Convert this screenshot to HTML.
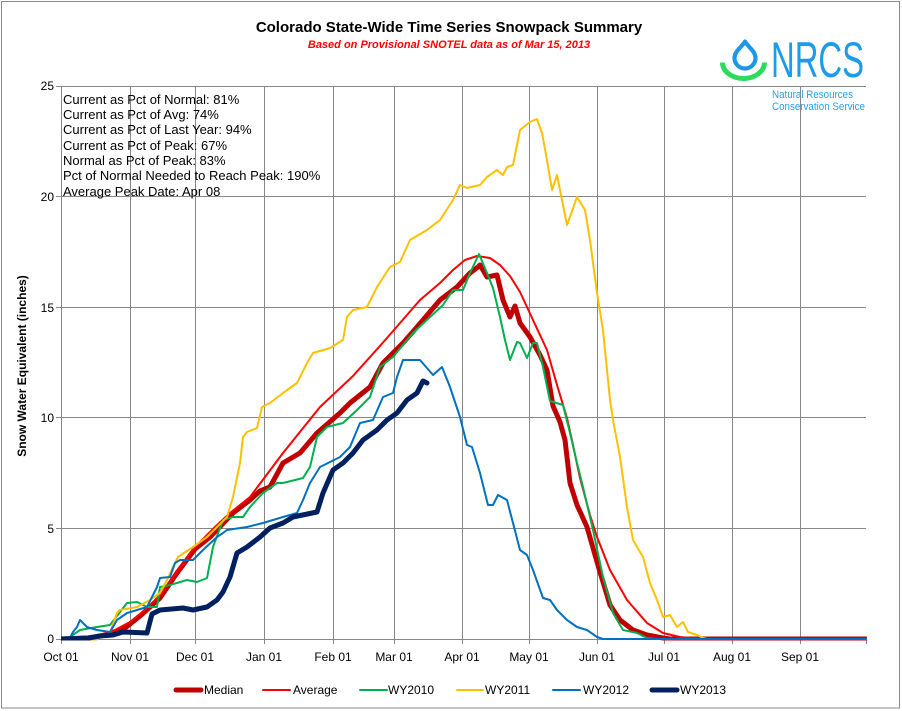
<!DOCTYPE html>
<html><head><meta charset="utf-8"><style>
html,body{margin:0;padding:0;background:#fff;}
svg{display:block;}
text{font-family:"Liberation Sans",Arial,sans-serif;}
</style></head><body>
<svg width="902" height="711" viewBox="0 0 902 711" xmlns="http://www.w3.org/2000/svg">
<rect x="0" y="0" width="902" height="711" fill="#fff"/>
<rect x="1.5" y="1.5" width="898" height="706.5" fill="none" stroke="#8a8a8a" stroke-width="1"/>

<!-- Title -->
<text x="449" y="32" text-anchor="middle" font-size="15" font-weight="bold" fill="#000">Colorado State-Wide Time Series Snowpack Summary</text>
<text x="449" y="48" text-anchor="middle" font-size="11" font-weight="bold" font-style="italic" fill="#ff0000">Based on Provisional SNOTEL data as of Mar 15, 2013</text>

<!-- Logo -->
<path d="M722.5,62.5 A21,16 0 0 0 764.5,62.5" fill="none" stroke="#2bdc5b" stroke-width="5"/>
<path d="M745,41.5 C748,47 755.5,51 755.5,58 A10.5,10.5 0 0 1 734.5,58 C734.5,51 742,47 745,41.5 Z" fill="#fff" stroke="#1e98e6" stroke-width="4.2" stroke-linejoin="round"/>
<text x="771" y="77" font-size="50" fill="#1e9be8" textLength="93" lengthAdjust="spacingAndGlyphs">NRCS</text>
<text x="772" y="98" font-size="11" fill="#2a9fe0" textLength="81" lengthAdjust="spacingAndGlyphs">Natural Resources</text>
<text x="772" y="110" font-size="11" fill="#2a9fe0" textLength="93" lengthAdjust="spacingAndGlyphs">Conservation Service</text>

<!-- Gridlines -->
<g stroke="#878787" stroke-width="1" fill="none">
<line x1="61" y1="86.5" x2="866" y2="86.5"/>
<line x1="61" y1="196.5" x2="866" y2="196.5"/>
<line x1="61" y1="307.5" x2="866" y2="307.5"/>
<line x1="61" y1="417.5" x2="866" y2="417.5"/>
<line x1="61" y1="528.5" x2="866" y2="528.5"/>
<line x1="56" y1="639.5" x2="866" y2="639.5"/>
<line x1="61.5" y1="86" x2="61.5" y2="644"/>
<line x1="130.5" y1="86" x2="130.5" y2="644"/>
<line x1="195.5" y1="86" x2="195.5" y2="644"/>
<line x1="264.5" y1="86" x2="264.5" y2="644"/>
<line x1="333.5" y1="86" x2="333.5" y2="644"/>
<line x1="394.5" y1="86" x2="394.5" y2="644"/>
<line x1="462.5" y1="86" x2="462.5" y2="644"/>
<line x1="529.5" y1="86" x2="529.5" y2="644"/>
<line x1="597.5" y1="86" x2="597.5" y2="644"/>
<line x1="664.5" y1="86" x2="664.5" y2="644"/>
<line x1="732.5" y1="86" x2="732.5" y2="644"/>
<line x1="800.5" y1="86" x2="800.5" y2="644"/>
<line x1="866.5" y1="639" x2="866.5" y2="644"/>
<line x1="56" y1="86.5" x2="61" y2="86.5"/>
<line x1="56" y1="196.5" x2="61" y2="196.5"/>
<line x1="56" y1="307.5" x2="61" y2="307.5"/>
<line x1="56" y1="417.5" x2="61" y2="417.5"/>
<line x1="56" y1="528.5" x2="61" y2="528.5"/>
</g>

<!-- Y labels -->
<g font-size="12" fill="#000" text-anchor="end">
<text x="54" y="90">25</text>
<text x="54" y="201">20</text>
<text x="54" y="312">15</text>
<text x="54" y="422">10</text>
<text x="54" y="533">5</text>
<text x="54" y="643">0</text>
</g>
<text transform="translate(26,366) rotate(-90)" text-anchor="middle" font-size="12" font-weight="bold" fill="#000">Snow Water Equivalent (inches)</text>

<!-- X labels -->
<g font-size="12" fill="#000" text-anchor="middle">
<text x="61" y="661">Oct 01</text>
<text x="130" y="661">Nov 01</text>
<text x="195" y="661">Dec 01</text>
<text x="264" y="661">Jan 01</text>
<text x="333" y="661">Feb 01</text>
<text x="394" y="661">Mar 01</text>
<text x="462" y="661">Apr 01</text>
<text x="529" y="661">May 01</text>
<text x="597" y="661">Jun 01</text>
<text x="664" y="661">Jul 01</text>
<text x="732" y="661">Aug 01</text>
<text x="800" y="661">Sep 01</text>
</g>

<!-- Stats text -->
<g font-size="13" fill="#000">
<text x="63" y="104">Current  as Pct of Normal: 81%</text>
<text x="63" y="119">Current  as Pct of Avg: 74%</text>
<text x="63" y="134">Current  as Pct of Last Year: 94%</text>
<text x="63" y="150">Current  as Pct of Peak: 67%</text>
<text x="63" y="165">Normal as Pct of Peak: 83%</text>
<text x="63" y="180">Pct of Normal Needed to Reach Peak: 190%</text>
<text x="63" y="196">Average Peak Date: Apr 08</text>
</g>

<defs><clipPath id="pc"><rect x="61" y="80" width="806" height="560.5"/></clipPath></defs>
<g clip-path="url(#pc)" fill="none" stroke-linejoin="round" stroke-linecap="round">
<!-- Median -->
<polyline stroke="#c00000" stroke-width="5" points="61,639 90,638 110,634 125,628 140,616 160,598 177,573 195,549 210,537 233,513 250,500 260,491 270,487 283,463 300,453 317,433 340,413 350,403 370,387 383,363 403,343 417,327 440,300 457,287 470,273 478,267 480,265 487,277 497,275 503,300 510,317 515,306 520,323 530,337 540,355 547,370 553,406 560,422 565,440 570,483 577,505 587,527 593,548 600,572 610,605 620,620 633,630 647,635 663,638 670,639 866,639"/>
<!-- Average -->
<polyline stroke="#ff0000" stroke-width="2" points="61,639 80,638 100,635 115,630 130,622 145,610 160,595 175,575 195,547 215,527 230,513 250,497 283,453 320,407 353,376 387,338 420,300 440,283 453,270 465,260 477,256 490,258 500,265 510,276 520,292 533,320 547,350 557,385 567,418 573,445 580,478 590,515 597,537 610,570 627,600 647,623 663,633 680,637 700,639 866,639"/>
<!-- WY2010 -->
<polyline stroke="#00b050" stroke-width="2" points="61,639 70,637 80,630 97,627 110,625 127,603 137,602 147,607 157,607 160,587 170,585 187,580 197,582 207,578 213,547 223,520 233,517 243,517 250,507 263,493 277,483 283,483 303,478 310,467 317,437 327,427 343,423 357,410 370,397 380,367 393,357 413,333 430,317 443,305 453,290 463,290 470,273 479,254 487,273 493,288 500,317 505,340 510,360 517,342 520,343 527,358 533,343 537,343 543,367 550,401 563,405 570,433 577,463 583,487 593,530 603,577 613,613 623,630 637,633 647,638 655,639 866,639"/>
<!-- WY2011 -->
<polyline stroke="#ffc000" stroke-width="2" points="61,639 90,639 95,640 100,638 110,633 117,613 120,610 137,607 150,600 160,593 167,580 173,567 178,557 193,547 207,537 217,527 227,517 233,497 240,463 243,437 247,432 257,428 262,407 270,403 283,393 297,383 307,363 313,353 330,348 343,340 347,317 353,310 367,307 377,287 390,267 400,262 410,240 427,230 440,220 453,200 460,185 467,188 480,185 487,177 497,170 503,175 507,167 513,165 520,130 530,122 537,119 542,133 547,160 552,190 557,175 567,225 577,197 585,210 590,240 597,293 603,330 610,400 613,420 620,457 627,507 633,540 643,557 650,583 657,600 663,617 670,615 677,627 683,622 688,632 697,635 703,638 707,639 866,639"/>
<!-- WY2012 -->
<polyline stroke="#0070c0" stroke-width="2" points="61,639 70,638 73,632 77,627 80,620 87,627 90,628 97,630 110,632 117,620 127,613 137,610 147,607 157,587 160,578 170,577 175,563 180,560 193,560 203,550 217,537 223,533 227,530 247,527 263,523 283,517 297,513 303,500 310,483 320,467 330,462 340,457 350,447 360,423 373,420 383,397 393,393 397,377 403,360 420,360 433,375 442,367 450,387 460,417 467,445 472,447 480,473 488,505 493,505 498,495 507,500 513,523 520,550 527,555 533,570 543,598 550,600 557,610 567,620 577,627 587,630 597,637 603,639 866,639"/>
<!-- WY2013 -->
<polyline stroke="#002060" stroke-width="5" points="61,639 88,638 100,636 113,635 123,632 147,633 152,614 160,610 183,608 193,610 207,607 217,600 223,592 230,577 237,553 247,547 260,537 270,528 283,523 293,517 317,512 323,493 333,470 343,463 353,453 363,440 377,430 387,420 397,413 407,400 417,393 423,381 427,383"/>
</g>

<!-- Legend -->
<g stroke-linecap="round">
<line x1="176" y1="690" x2="201" y2="690" stroke="#c00000" stroke-width="5"/>
<line x1="263" y1="690" x2="290" y2="690" stroke="#ff0000" stroke-width="2"/>
<line x1="360" y1="690" x2="387" y2="690" stroke="#00b050" stroke-width="2"/>
<line x1="457" y1="690" x2="483" y2="690" stroke="#ffc000" stroke-width="2"/>
<line x1="553" y1="690" x2="580" y2="690" stroke="#0070c0" stroke-width="2"/>
<line x1="652" y1="690" x2="677" y2="690" stroke="#002060" stroke-width="5"/>
</g>
<g font-size="12" fill="#000">
<text x="204" y="694">Median</text>
<text x="293" y="694">Average</text>
<text x="388" y="694">WY2010</text>
<text x="485" y="694">WY2011</text>
<text x="583" y="694">WY2012</text>
<text x="680" y="694">WY2013</text>
</g>
</svg>
</body></html>
